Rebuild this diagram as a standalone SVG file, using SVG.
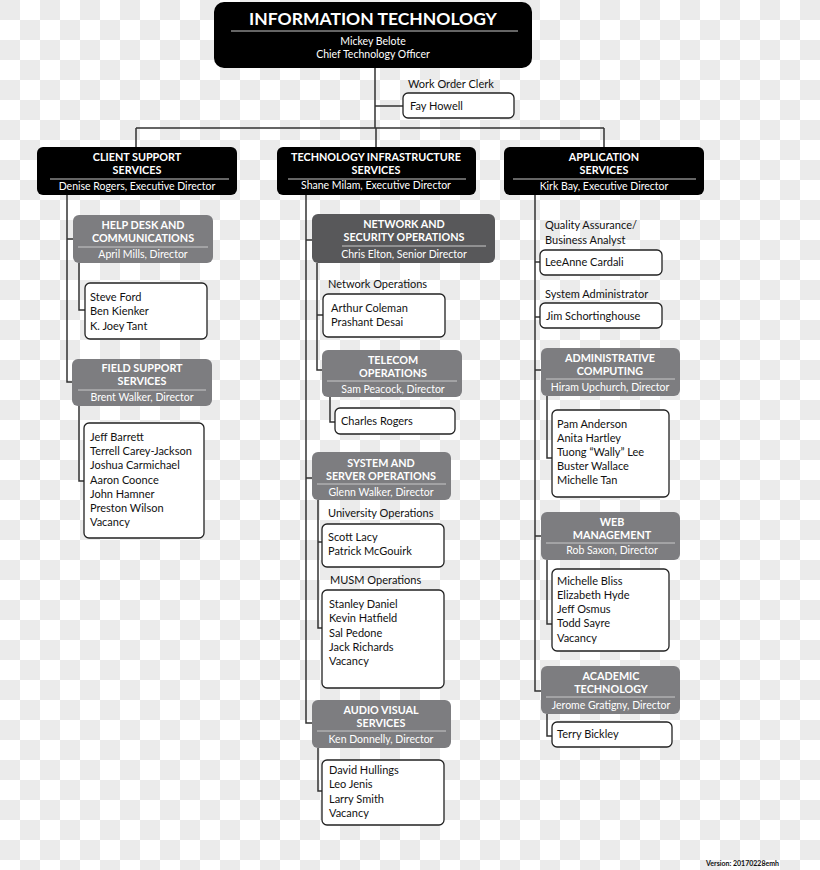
<svg xmlns="http://www.w3.org/2000/svg" width="820" height="870" viewBox="0 0 820 870">
<defs>
<pattern id="chk" width="40" height="40" patternUnits="userSpaceOnUse">
<rect width="40" height="40" fill="#ffffff"/>
<rect x="0" y="0" width="20" height="20" fill="#ebebeb"/>
<rect x="20" y="20" width="20" height="20" fill="#ebebeb"/>
</pattern>
<style>
text{font-family:Lato,"Liberation Sans",sans-serif}
.blk{fill:#000}
.gry{fill:#7d7d80}
.dgry{fill:#58585a}
.wht{fill:#fff;stroke:#222;stroke-width:1.3}
.sep{stroke:#c9c9c9;stroke-width:1}
.hd{fill:#fff;font-weight:bold;font-size:10.8px;text-anchor:middle}
.sub{fill:#fff;font-size:10.5px;text-anchor:middle}
.nm{fill:#111;font-size:11px}
.lbl{fill:#111;font-size:11px}
.ln{stroke:#333;stroke-width:1.5;fill:none}
</style>
</defs>
<rect width="820" height="870" fill="url(#chk)"/>

<g id="connectors">
<path class="ln" d="M375 68V128M136 128H604M136 128V147M376 128V147M604 128V147M375 106H403"/>
<path class="ln" d="M67 195V382H72M67 239H73M79 263V310H85M79 406V481H84"/>
<path class="ln" d="M306 195V723H312M306 240H312M306 478H312M317 263V370H322M317 315H323M330 397V422H335M318 500V628H322M318 542H322M318 748V791H322"/>
<path class="ln" d="M535 195V691H541M535 262H540M535 317H540M535 370H541M535 536H541M547 396V458H552M547 560V624H552M547 714V736H552"/>
</g>

<g id="it">
<rect x="214" y="2" width="318" height="66" rx="10" class="blk"/>
<text x="373" y="25" fill="#fff" font-weight="bold" font-size="17.5" text-anchor="middle">INFORMATION TECHNOLOGY</text>
<line x1="231" y1="31" x2="518" y2="31" class="sep"/>
<text x="373" y="45" class="sub" font-size="11">Mickey Belote</text>
<text x="373" y="58" class="sub" font-size="11">Chief Technology Officer</text>
</g>

<g id="clerk">
<text x="408" y="88" class="lbl">Work Order Clerk</text>
<rect x="403" y="93" width="111" height="25" rx="5" class="wht"/>
<text x="410" y="110" class="nm">Fay Howell</text>
</g>

<g id="client">
<rect x="37" y="147" width="200" height="48" rx="6" class="blk"/>
<text x="137" y="161" class="hd">CLIENT SUPPORT</text>
<text x="137" y="174" class="hd">SERVICES</text>
<line x1="50" y1="179" x2="229" y2="179" class="sep"/>
<text x="137" y="190" class="sub">Denise Rogers, Executive Director</text>
</g>

<g id="tis">
<rect x="277" y="147" width="199" height="48" rx="6" class="blk"/>
<text x="376" y="161" class="hd">TECHNOLOGY INFRASTRUCTURE</text>
<text x="376" y="174" class="hd">SERVICES</text>
<line x1="288" y1="179" x2="466" y2="179" class="sep"/>
<text x="376" y="189" class="sub">Shane Milam, Executive Director</text>
</g>

<g id="apps">
<rect x="504" y="147" width="200" height="48" rx="6" class="blk"/>
<text x="604" y="161" class="hd">APPLICATION</text>
<text x="604" y="174" class="hd">SERVICES</text>
<line x1="513" y1="179" x2="696" y2="179" class="sep"/>
<text x="604" y="190" class="sub">Kirk Bay, Executive Director</text>
</g>

<g id="helpdesk">
<rect x="73" y="215" width="140" height="48" rx="6" class="gry"/>
<text x="143" y="229" class="hd">HELP DESK AND</text>
<text x="143" y="242" class="hd">COMMUNICATIONS</text>
<line x1="78" y1="247" x2="208" y2="247" class="sep"/>
<text x="143" y="258" class="sub">April Mills, Director</text>
</g>
<g id="helpdesk-staff">
<rect x="85" y="283" width="122" height="56" rx="5" class="wht"/>
<text x="90" y="301" class="nm">Steve Ford</text>
<text x="90" y="315" class="nm">Ben Kienker</text>
<text x="90" y="330" class="nm">K. Joey Tant</text>
</g>

<g id="field">
<rect x="72" y="359" width="140" height="47" rx="6" class="gry"/>
<text x="142" y="372" class="hd">FIELD SUPPORT</text>
<text x="142" y="385" class="hd">SERVICES</text>
<line x1="78" y1="390" x2="206" y2="390" class="sep"/>
<text x="142" y="401" class="sub">Brent Walker, Director</text>
</g>
<g id="field-staff">
<rect x="84" y="423" width="120" height="115" rx="5" class="wht"/>
<text x="90" y="441" class="nm">Jeff Barrett</text>
<text x="90" y="455" class="nm">Terrell Carey-Jackson</text>
<text x="90" y="469" class="nm">Joshua Carmichael</text>
<text x="90" y="484" class="nm">Aaron Coonce</text>
<text x="90" y="498" class="nm">John Hamner</text>
<text x="90" y="512" class="nm">Preston Wilson</text>
<text x="90" y="526" class="nm">Vacancy</text>
</g>

<g id="network">
<rect x="312" y="214" width="183" height="49" rx="6" class="dgry"/>
<text x="404" y="228" class="hd">NETWORK AND</text>
<text x="404" y="241" class="hd">SECURITY OPERATIONS</text>
<line x1="342" y1="246" x2="486" y2="246" class="sep"/>
<text x="404" y="258" class="sub">Chris Elton, Senior Director</text>
</g>
<g id="netops">
<text x="328" y="288" class="lbl">Network Operations</text>
<rect x="323" y="294" width="122" height="43" rx="5" class="wht"/>
<text x="331" y="312" class="nm">Arthur Coleman</text>
<text x="331" y="326" class="nm">Prashant Desai</text>
</g>

<g id="telecom">
<rect x="322" y="350" width="140" height="47" rx="6" class="gry"/>
<text x="393" y="364" class="hd">TELECOM</text>
<text x="393" y="377" class="hd">OPERATIONS</text>
<line x1="327" y1="381" x2="457" y2="381" class="sep"/>
<text x="393" y="393" class="sub">Sam Peacock, Director</text>
</g>
<g id="telecom-staff">
<rect x="335" y="408" width="120" height="26" rx="5" class="wht"/>
<text x="341" y="425" class="nm">Charles Rogers</text>
</g>

<g id="system">
<rect x="312" y="452" width="139" height="48" rx="6" class="gry"/>
<text x="381" y="467" class="hd">SYSTEM AND</text>
<text x="381" y="480" class="hd">SERVER OPERATIONS</text>
<line x1="317" y1="484" x2="446" y2="484" class="sep"/>
<text x="381" y="496" class="sub">Glenn  Walker, Director</text>
</g>
<g id="univops">
<text x="328" y="517" class="lbl">University Operations</text>
<rect x="322" y="524" width="122" height="43" rx="5" class="wht"/>
<text x="328" y="541" class="nm">Scott Lacy</text>
<text x="328" y="555" class="nm">Patrick McGouirk</text>
</g>
<g id="musmops">
<text x="330" y="584" class="lbl">MUSM Operations</text>
<rect x="322" y="590" width="122" height="98" rx="5" class="wht"/>
<text x="329" y="608" class="nm">Stanley Daniel</text>
<text x="329" y="622" class="nm">Kevin Hatfield</text>
<text x="329" y="637" class="nm">Sal Pedone</text>
<text x="329" y="651" class="nm">Jack Richards</text>
<text x="329" y="665" class="nm">Vacancy</text>
</g>

<g id="av">
<rect x="312" y="700" width="139" height="48" rx="6" class="gry"/>
<text x="381" y="714" class="hd">AUDIO VISUAL</text>
<text x="381" y="727" class="hd">SERVICES</text>
<line x1="317" y1="731" x2="446" y2="731" class="sep"/>
<text x="381" y="743" class="sub">Ken Donnelly, Director</text>
</g>
<g id="av-staff">
<rect x="322" y="760" width="122" height="65" rx="5" class="wht"/>
<text x="329" y="774" class="nm">David Hullings</text>
<text x="329" y="788" class="nm">Leo Jenis</text>
<text x="329" y="803" class="nm">Larry Smith</text>
<text x="329" y="817" class="nm">Vacancy</text>
</g>

<g id="qa">
<text x="545" y="229" class="lbl">Quality Assurance/</text>
<text x="545" y="244" class="lbl">Business Analyst</text>
<rect x="540" y="250" width="122" height="25" rx="5" class="wht"/>
<text x="545" y="266" class="nm">LeeAnne Cardali</text>
</g>
<g id="sysadmin">
<text x="545" y="298" class="lbl">System Administrator</text>
<rect x="540" y="303" width="122" height="25" rx="5" class="wht"/>
<text x="546" y="320" class="nm">Jim Schortinghouse</text>
</g>

<g id="admin">
<rect x="541" y="348" width="139" height="48" rx="6" class="gry"/>
<text x="610" y="362" class="hd">ADMINISTRATIVE</text>
<text x="610" y="375" class="hd">COMPUTING</text>
<line x1="546" y1="379" x2="675" y2="379" class="sep"/>
<text x="610" y="391" class="sub">Hiram Upchurch, Director</text>
</g>
<g id="admin-staff">
<rect x="552" y="410" width="117" height="87" rx="5" class="wht"/>
<text x="557" y="428" class="nm">Pam Anderson</text>
<text x="557" y="442" class="nm">Anita Hartley</text>
<text x="557" y="456" class="nm">Tuong “Wally” Lee</text>
<text x="557" y="470" class="nm">Buster Wallace</text>
<text x="557" y="484" class="nm">Michelle Tan</text>
</g>

<g id="web">
<rect x="541" y="512" width="139" height="48" rx="6" class="gry"/>
<text x="612" y="526" class="hd">WEB</text>
<text x="612" y="539" class="hd">MANAGEMENT</text>
<line x1="546" y1="543" x2="675" y2="543" class="sep"/>
<text x="612" y="554" class="sub">Rob Saxon, Director</text>
</g>
<g id="web-staff">
<rect x="552" y="569" width="117" height="82" rx="5" class="wht"/>
<text x="557" y="585" class="nm">Michelle Bliss</text>
<text x="557" y="599" class="nm">Elizabeth Hyde</text>
<text x="557" y="613" class="nm">Jeff Osmus</text>
<text x="557" y="627" class="nm">Todd Sayre</text>
<text x="557" y="642" class="nm">Vacancy</text>
</g>

<g id="academic">
<rect x="541" y="666" width="139" height="48" rx="6" class="gry"/>
<text x="611" y="680" class="hd">ACADEMIC</text>
<text x="611" y="693" class="hd">TECHNOLOGY</text>
<line x1="546" y1="697" x2="675" y2="697" class="sep"/>
<text x="611" y="709" class="sub">Jerome Gratigny, Director</text>
</g>
<g id="academic-staff">
<rect x="552" y="722" width="120" height="25" rx="5" class="wht"/>
<text x="557" y="738" class="nm">Terry Bickley</text>
</g>

<text x="706" y="866" fill="#111" font-size="7" font-weight="bold">Version: 20170228emh</text>
</svg>
